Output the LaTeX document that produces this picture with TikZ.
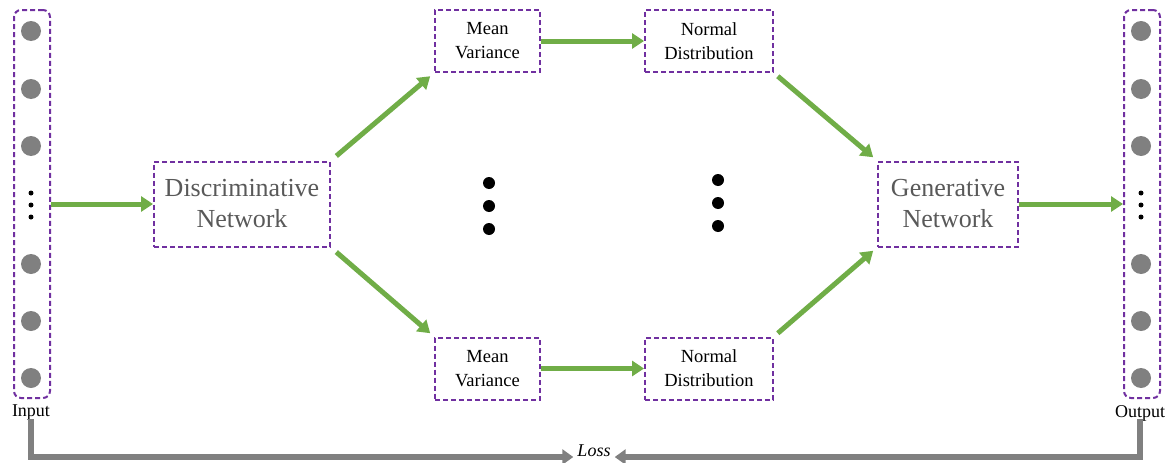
\documentclass[tikz,border=0pt]{standalone}
\usepackage{fontspec}
\setmainfont{Liberation Serif}
\usetikzlibrary{arrows.meta}
\definecolor{vgreen}{HTML}{70AD47}
\definecolor{vpurple}{HTML}{7030A0}
\definecolor{vgray}{HTML}{808080}
\definecolor{tgray}{HTML}{595959}
\begin{document}
\begin{tikzpicture}[x=1pt,y=-1pt,
 box/.style={draw=vpurple, line width=2pt, dash pattern=on 5pt off 3pt, inner sep=0pt, align=center},
 col/.style={box, rounded corners=7pt, minimum width=36pt, minimum height=388pt},
 bignet/.style={box, minimum height=85pt, text=tgray, font=\fontsize{26}{31}\selectfont},
 small/.style={box, minimum height=62pt, font=\fontsize{18.5}{24}\selectfont},
 neuron/.style={circle, fill=vgray, minimum size=20pt, inner sep=0pt},
 dotb/.style={circle, fill=black, minimum size=5pt, inner sep=0pt},
 bigdot/.style={circle, fill=black, minimum size=12pt, inner sep=0pt},
 flow/.style={draw=vgreen, line width=5pt, -{Triangle[length=12pt,width=15pt]}},
 lossline/.style={draw=vgray, line width=5.5pt, -{Triangle[length=11pt,width=15pt]}},
 lab/.style={font=\fontsize{18}{20}\selectfont, inner sep=2pt}
]
\useasboundingbox (0,0) rectangle (1175,463);
% input column
\node[col] (incol) at (32,204) {};
\foreach \y [count=\i] in {31,89,146,264,321,378} \node[neuron] (in\i) at (31,\y) {};
\foreach \y [count=\i] in {193,205,217} \node[dotb] (ind\i) at (31,\y) {};
\node[lab] (inlab) at (31,413) {Input};
% output column
\node[col] (outcol) at (1142,204) {};
\foreach \y [count=\i] in {31,89,146,264,321,378} \node[neuron] (out\i) at (1141,\y) {};
\foreach \y [count=\i] in {193,205,217} \node[dotb] (outd\i) at (1141,\y) {};
\node[lab] (outlab) at (1140,413) {Output};
% boxes
\node[bignet, minimum width=176pt] (disc) at (242,204) {Discriminative\\Network};
\node[bignet, minimum width=140pt] (gen) at (948,204) {Generative\\Network};
\node[small, minimum width=105pt] (mv1) at (487.5,41) {Mean\\Variance};
\node[small, minimum width=128pt] (nd1) at (709,41) {Normal\\Distribution};
\node[small, minimum width=105pt] (mv2) at (487.5,368.5) {Mean\\Variance};
\node[small, minimum width=128pt] (nd2) at (709,368.5) {Normal\\Distribution};
% big dots
\foreach \y [count=\i] in {183,206,229} \node[bigdot] (ma\i) at (489,\y) {};
\foreach \y [count=\i] in {180,203,226} \node[bigdot] (mb\i) at (718,\y) {};
% flows
\draw[flow] (incol.east |- disc.west) -- (disc.west);
\draw[flow, shorten <=7pt, shorten >=5pt] (disc.north east) -- (mv1.south west);
\draw[flow, shorten <=7pt, shorten >=5pt] (disc.south east) -- (mv2.north west);
\draw[flow] (mv1.east) -- (nd1.west);
\draw[flow] (mv2.east) -- (nd2.west);
\draw[flow, shorten <=5pt, shorten >=5pt] (nd1.south east) -- (gen.north west);
\draw[flow, shorten <=5pt, shorten >=5pt] (nd2.north east) -- (gen.south west);
\draw[flow] (gen.east) -- (outcol.west |- gen.east);
% loss
\node[font=\fontsize{18}{20}\selectfont\itshape, inner sep=4pt] (loss) at (594,451) {Loss};
\coordinate (lossL) at ([yshift=-6pt]loss.west);
\coordinate (lossR) at ([yshift=-6pt]loss.east);
\draw[lossline] ([yshift=4pt]inlab.south) |- (lossL);
\draw[lossline] ([yshift=4pt]outlab.south) |- (lossR);
\end{tikzpicture}
\end{document}
